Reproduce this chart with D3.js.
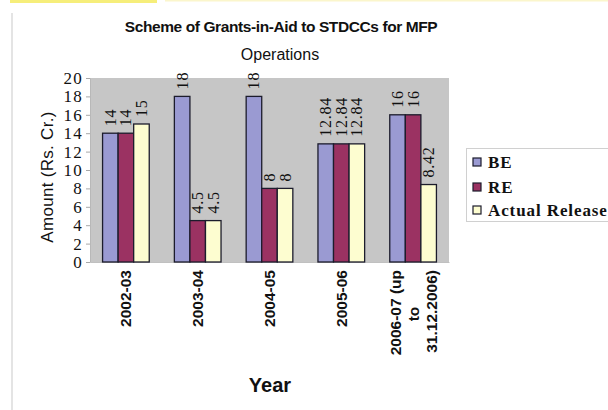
<!DOCTYPE html>
<html><head><meta charset="utf-8">
<script src="https://cdn.jsdelivr.net/npm/d3@7"></script>
<style>body{margin:0;background:#fff}svg{display:block}</style>
</head><body>
<svg id="c" width="608" height="410"></svg>
<script>
const categories = ["2002-03","2003-04","2004-05","2005-06","2006-07 (up to 31.12.2006)"];
const catLines = [["2002-03"],["2003-04"],["2004-05"],["2005-06"],["2006-07 (up","to","31.12.2006)"]];
const seriesNames = ["BE","RE","Actual Release"];
const BE = [14,18,18,12.84,16];
const RE = [14,4.5,8,12.84,16];
const Actual = [15,4.5,8,12.84,8.42];
const valueLabels = [["14","14","15"],["18","4.5","4.5"],["18","8","8"],["12.84","12.84","12.84"],["16","16","8.42"]];
const yTicks = [0,2,4,6,8,10,12,14,16,18,20];
const colors = ["#9a9ad2","#9b3262","#fdfdd0"];
const series = [BE,RE,Actual];

const svg = d3.select("#c");
// page decorations
svg.append("rect").attr("x",10).attr("y",0).attr("width",147).attr("height",3).attr("fill","#f6ee7a");
svg.append("rect").attr("x",165).attr("y",0).attr("width",443).attr("height",1.5).attr("fill","#fbf6cc");
svg.append("rect").attr("x",11).attr("y",13).attr("width",2).attr("height",397).attr("fill","#e4e4e4");

const L=90,R=449,T=78,B=262;
const x = d3.scaleBand().domain(categories).range([L,R]).paddingInner(0.35).paddingOuter(0.175);
const xs = d3.scaleBand().domain(seriesNames).range([0,x.bandwidth()]);
const y = d3.scaleLinear().domain([0,20]).range([B,T]);

svg.append("rect").attr("x",L).attr("y",T).attr("width",R-L).attr("height",B-T).attr("fill","#c6c6c6");

// y axis
const ya = svg.append("g").attr("transform",`translate(${L},0)`)
  .call(d3.axisLeft(y).tickValues(yTicks).tickSize(4).tickPadding(3));
ya.select(".domain").attr("stroke","#b8b8b8");
ya.selectAll(".tick line").attr("stroke","#a8a8a8");
ya.selectAll("text").attr("font-family","Liberation Serif, Times New Roman, serif").attr("font-size",17)
  .attr("letter-spacing",1.2).attr("fill","#111");

// x axis
const xa = svg.append("g").attr("transform",`translate(0,${B})`)
  .call(d3.axisBottom(x).tickSize(0).tickFormat(""));
xa.select(".domain").attr("stroke","#c0c0c0");

// bars
const groups = svg.append("g").selectAll("g").data(categories).join("g")
  .attr("transform",d=>`translate(${x(d)},0)`);
groups.each(function(c,i){
  const g=d3.select(this);
  seriesNames.forEach((s,j)=>{
    const v=series[j][i];
    g.append("rect").attr("x",xs(s)).attr("y",y(v)).attr("width",xs.bandwidth()).attr("height",B-y(v))
      .attr("fill",colors[j]).attr("stroke","#1c1c2c").attr("stroke-width",1.3);
    const cx = xs(s)+xs.bandwidth()/2, ty=y(v)-7;
    g.append("text").attr("transform",`translate(${cx},${ty}) rotate(-90)`)
      .attr("dominant-baseline","central").attr("text-anchor","start")
      .attr("font-family","Liberation Serif, Times New Roman, serif").attr("font-size",16)
      .attr("letter-spacing",0.8).attr("fill","#111").text(valueLabels[i][j]);
  });
});

// category labels
categories.forEach((c,i)=>{
  const lines=catLines[i];
  const cx=x(c)+x.bandwidth()/2;
  const n=lines.length, lh=18;
  lines.forEach((t,k)=>{
    const lx=cx+(k-(n-1)/2)*lh;
    const mid = (n>1 && k===1);
    svg.append("text").attr("transform",`translate(${lx},${mid?314:270}) rotate(-90)`)
      .attr("text-anchor",mid?"middle":"end").attr("dominant-baseline","central")
      .attr("font-family","Liberation Sans, Arial, sans-serif").attr("font-weight","bold")
      .attr("font-size",15.5).attr("fill","#111").text(t);
  });
});

// titles
svg.append("text").attr("x",281).attr("y",32).attr("text-anchor","middle")
  .attr("font-family","Liberation Sans, Arial, sans-serif").attr("font-size",15.5).attr("font-weight","bold")
  .attr("letter-spacing",-0.4).attr("fill","#111").text("Scheme of Grants-in-Aid to STDCCs for MFP");
svg.append("text").attr("x",280).attr("y",60).attr("text-anchor","middle")
  .attr("font-family","Liberation Sans, Arial, sans-serif").attr("font-size",16)
  .attr("fill","#111").text("Operations");
svg.append("text").attr("transform","translate(47,177) rotate(-90)").attr("text-anchor","middle")
  .attr("dominant-baseline","central")
  .attr("font-family","Liberation Sans, Arial, sans-serif").attr("font-size",17)
  .attr("letter-spacing",0.3).attr("fill","#111").text("Amount (Rs. Cr.)");
svg.append("text").attr("x",270).attr("y",392).attr("text-anchor","middle")
  .attr("font-family","Liberation Sans, Arial, sans-serif").attr("font-size",20).attr("font-weight","bold")
  .attr("fill","#111").text("Year");

// legend
const lg = svg.append("g");
lg.append("rect").attr("x",466.5).attr("y",148.5).attr("width",150).attr("height",73)
  .attr("fill","#fff").attr("stroke","#d0d0d0");
seriesNames.forEach((s,j)=>{
  const cy=[162,187,210][j];
  lg.append("rect").attr("x",473).attr("y",cy-4).attr("width",8).attr("height",8)
    .attr("fill",colors[j]).attr("stroke","#1c1c2c").attr("stroke-width",1.2);
  lg.append("text").attr("x",488).attr("y",cy).attr("dominant-baseline","central")
    .attr("font-family","Liberation Serif, Times New Roman, serif").attr("font-weight","bold")
    .attr("font-size",17).attr("letter-spacing",0.9).attr("fill","#111").text(s);
});
</script>
</body></html>
